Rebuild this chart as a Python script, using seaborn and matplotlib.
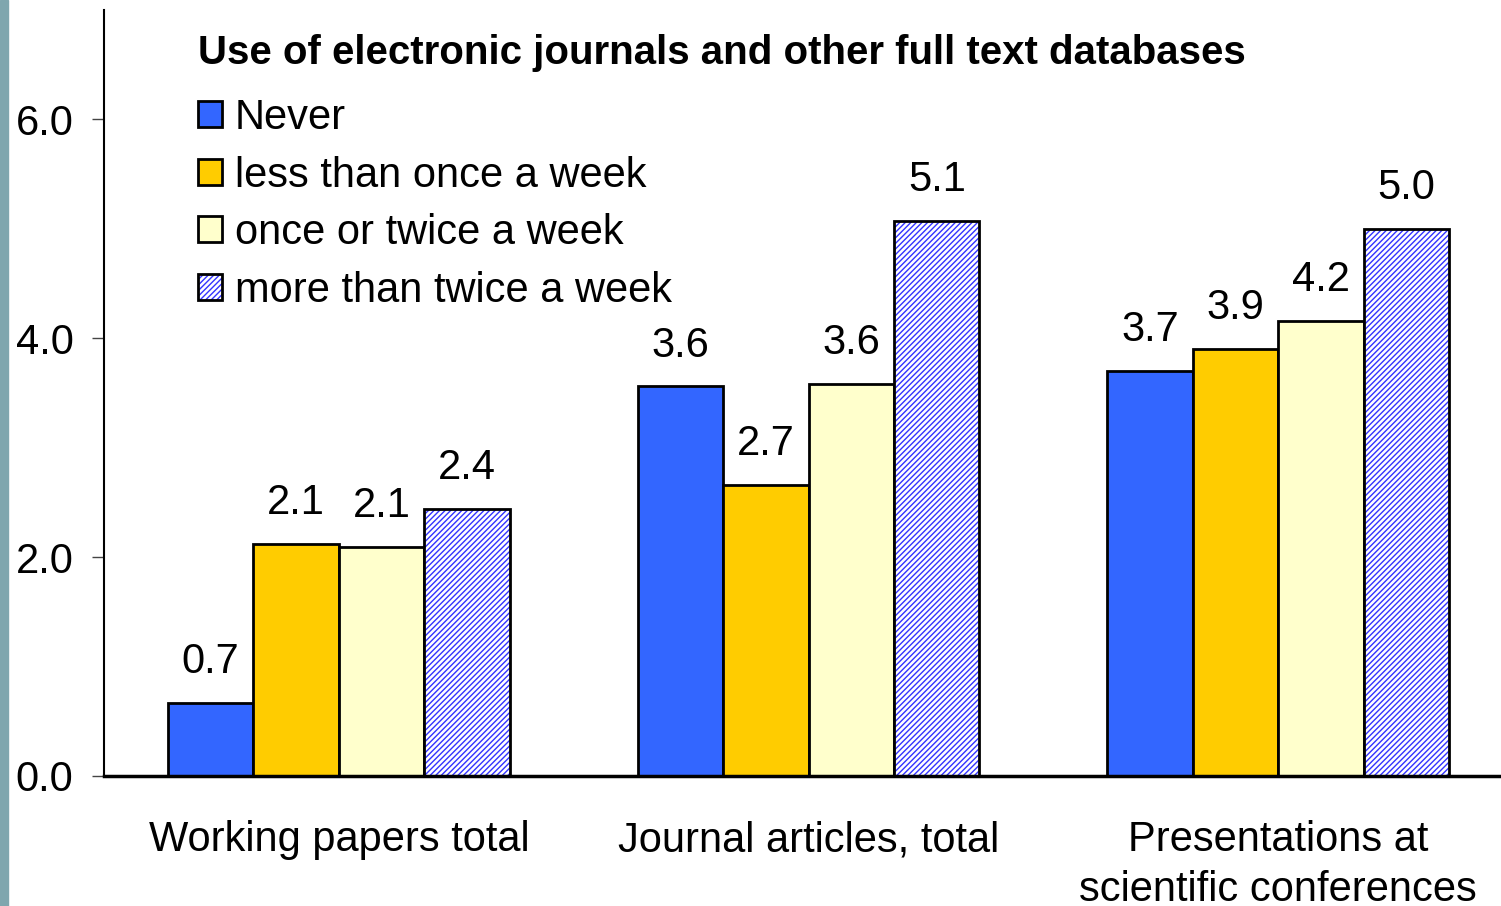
import matplotlib
matplotlib.use("Agg")
import matplotlib.pyplot as plt
import matplotlib.patches as mpatches
import seaborn as sns
import pandas as pd

categories = ["Working papers total", "Journal articles, total",
              "Presentations at\nscientific conferences"]
frequencies = ["Never", "less than once a week", "once or twice a week",
               "more than twice a week"]
never = [0.67, 3.56, 3.70]
less_weekly = [2.12, 2.66, 3.90]
once_twice = [2.09, 3.58, 4.16]
more_twice = [2.44, 5.07, 5.00]
title = "Use of electronic journals and other full text databases"

rows = []
for freq, vals in zip(frequencies, [never, less_weekly, once_twice, more_twice]):
    for cat, v in zip(categories, vals):
        rows.append({"Category": cat, "Frequency": freq, "Value": v})
df = pd.DataFrame(rows)

sns.set_theme(style="white")
plt.rcParams['font.family'] = ['Liberation Sans', 'DejaVu Sans']
plt.rcParams['text.color'] = 'black'
plt.rcParams['xtick.color'] = 'black'
plt.rcParams['ytick.color'] = 'black'
plt.rcParams['hatch.linewidth'] = 1.0

colors = ["#3366FF", "#FFCC00", "#FFFFCC", "#FFFFFF"]
hatch_blue = "#3333FF"
hatch = "//////"

fig = plt.figure(figsize=(15.01, 9.06), dpi=100)
# axes runs slightly past the right edge of the figure, like the original slide
ax = fig.add_axes([0.0693, 0.1435, 1409 / 1501, 0.8455])

sns.barplot(data=df, x="Category", y="Value", hue="Frequency",
            hue_order=frequencies, order=categories, palette=colors,
            saturation=1, width=0.728, edgecolor="black", linewidth=2,
            ax=ax, legend=False)

# hatched bars: blue hatch + black outline drawn on top
for p in ax.containers[3].patches:
    p.set_hatch(hatch)
    p.set_edgecolor(hatch_blue)
    p.set_linewidth(0)
    ax.add_patch(mpatches.Rectangle(p.get_xy(), p.get_width(), p.get_height(),
                                    fill=False, edgecolor="black", lw=2,
                                    zorder=p.get_zorder() + 0.1))

for c in ax.containers:
    ax.bar_label(c, fmt="%.1f", padding=15, fontsize=30)

ax.set_ylim(0, 7)
ax.set_xlim(-0.5, 2.5)
ax.set_yticks([0, 2, 4, 6])
ax.yaxis.set_major_formatter(matplotlib.ticker.FormatStrFormatter("%.1f"))
ax.tick_params(axis="y", left=True, length=9, width=1, color="#444444",
               labelsize=30, pad=13, direction="out")
ax.tick_params(axis="x", bottom=False, labelsize=30, pad=26)
for lbl in ax.get_xticklabels():
    lbl.set_linespacing(1.3)
ax.set_xlabel("")
ax.set_ylabel("")
sns.despine(ax=ax)
ax.spines["left"].set_linewidth(1.5)
ax.spines["left"].set_color("black")
ax.spines["bottom"].set_linewidth(2.5)
ax.spines["bottom"].set_color("black")

# legend
handles = []
for i, (f, c) in enumerate(zip(frequencies, colors)):
    if i == 3:
        h = (mpatches.Patch(facecolor="white", edgecolor=hatch_blue, lw=0, hatch=hatch),
             mpatches.Patch(fill=False, edgecolor="black", lw=2))
    else:
        h = mpatches.Patch(facecolor=c, edgecolor="black", lw=2)
    handles.append(h)
leg = ax.legend(handles=handles, labels=frequencies, title=title, loc="upper left",
                bbox_to_anchor=(0.132, 0.962), bbox_transform=fig.transFigure,
                frameon=False, fontsize=30, handlelength=0.58, handleheight=0.58,
                handletextpad=0.3, labelspacing=0.42, borderaxespad=0,
                borderpad=0)
leg.get_title().set_fontsize(29)
leg.get_title().set_fontweight("bold")
leg._legend_box.align = "left"
leg._legend_box.sep = 18.5

# left stripe
fig.patches.append(mpatches.Rectangle((0, 0), 8 / 1501, 1, transform=fig.transFigure,
                                      color="#7FA6AE", zorder=0))

fig.savefig("out.png", dpi=100)
